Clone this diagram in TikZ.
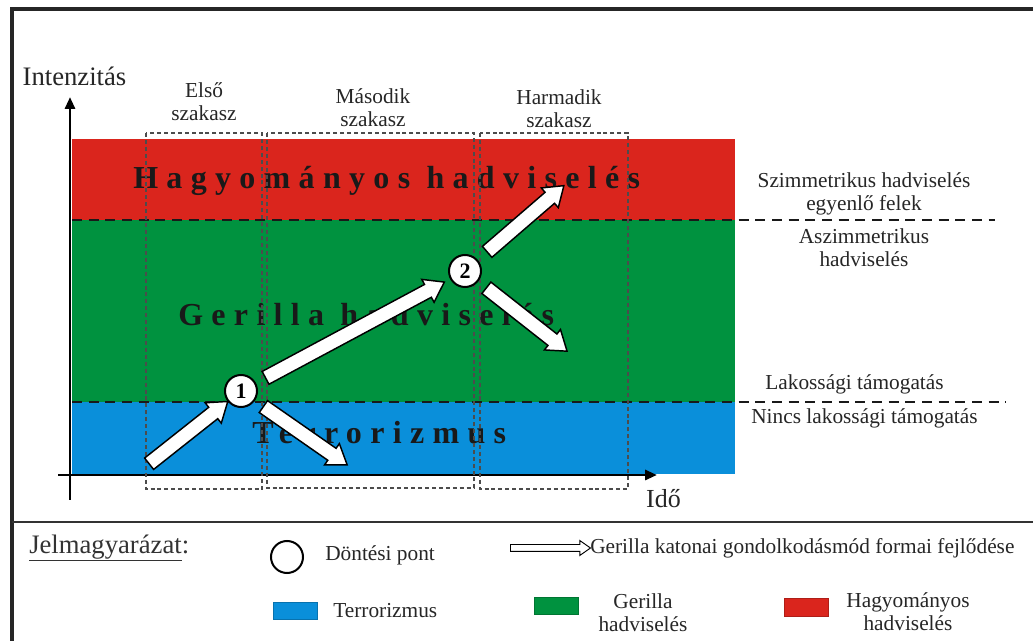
\documentclass[tikz,border=0pt]{standalone}
\usepackage{fontspec}
\setmainfont{Liberation Serif}
\newfontfamily\bandfont[LetterSpace=26]{Liberation Serif}
\usetikzlibrary{shapes.arrows,calc,arrows.meta}
\definecolor{hred}{HTML}{DA251D}
\definecolor{ggreen}{HTML}{00923F}
\definecolor{tblue}{HTML}{0A8FDA}
\pgfdeclarelayer{bottom}
\pgfdeclarelayer{arrowlayer}
\pgfsetlayers{bottom,arrowlayer,main}
\newcommand\blockarrow[4]{%
  \path let \p1=(#2), \p2=(#3), \n1={atan2(\y2-\y1,\x2-\x1)}, \n2={veclen(\x2-\x1,\y2-\y1)} in
    node[#1, minimum height=\n2, rotate=\n1] (#4) at ($(\p1)!0.5!(\p2)$) {};}
\begin{document}
\begin{tikzpicture}[x=0.75pt,y=-0.75pt,
  phase/.style={draw=black!70, line width=0.8pt, dash pattern=on 3pt off 2.2pt},
  level/.style={draw=black!90, line width=1.9pt, dash pattern=on 7.5pt off 5pt},
  axis/.style={line width=2.2pt, -{Triangle[length=9pt,width=7.5pt]}},
  lbl/.style={font=\fontsize{16}{17}\selectfont, text=black!85, align=center, inner sep=0pt},
  biglbl/.style={font=\fontsize{20}{22}\selectfont, text=black!85, inner sep=0pt},
  bandlbl/.style={font=\bandfont\bfseries\fontsize{24}{24}\selectfont, text=black!90, inner sep=0pt, anchor=base west},
  decision/.style={circle, draw, line width=1.5pt, fill=white, minimum size=24pt, inner sep=0pt, font=\bfseries\fontsize{16.5}{16.5}\selectfont},
  bigarrow/.style={single arrow, draw, fill=white, line width=1.1pt, inner xsep=0pt, inner ysep=4.9pt,
    single arrow head extend=4.3pt, single arrow tip angle=70, single arrow head indent=0pt},
  legarrow/.style={single arrow, draw, fill=white, line width=0.7pt, inner xsep=0pt, inner ysep=2.25pt,
    single arrow head extend=3pt, single arrow tip angle=70, single arrow head indent=0pt},
  swatch/.style={line width=0.5pt}
]
\useasboundingbox (0,0) rectangle (1033,641);
\clip (0,0) rectangle (1033,641);

\begin{pgfonlayer}{bottom}
% frame
\draw[line width=2.4pt, black!85] (12,700) -- (12,9) -- (1100,9);
\draw[line width=2pt, black!80] (12,522) -- (1100,522);
% bands
\fill[hred] (72,139) rectangle (735,220);
\fill[ggreen] (72,220) rectangle (735,402);
\fill[tblue] (72,402) rectangle (735,474);
\node[bandlbl] (lh) at (133,189) {Hagyományos hadviselés};
\node[bandlbl] (lg) at (178,326) {Gerilla hadviselés};
\node[bandlbl] (lt) at (252,444) {Terrorizmus};
% level lines
\draw[level] (72,220) -- (995,220);
\draw[level] (72,402) -- (1006,402);
% axes
\draw[axis] (70,500) -- (70,97);
\draw[axis] (58,475) -- (657,475);
% phase boxes
\draw[phase] (146,133) rectangle (262,489);
\draw[phase] (267,133) rectangle (474,488);
\draw[phase] (480,133) rectangle (628,489);
\end{pgfonlayer}

% axis labels
\node[biglbl] (yl) at (74.5,76) {Intenzitás};
\node[biglbl, font=\fontsize{19.5}{21}\selectfont] (xl) at (663.5,499) {Idő};
% phase labels
\node[lbl] (p1) at (204,102) {Első\\szakasz};
\node[lbl] (p2) at (373,108) {Második\\szakasz};
\node[lbl] (p3) at (559,109) {Harmadik\\szakasz};
% right labels
\node[lbl] (r1) at (864,194) {Szimmetrikus hadviselés\\egyenlő felek};
\node[lbl] (r2) at (864,248) {Aszimmetrikus\\hadviselés};
\node[lbl] (r3) at (854.5,384) {Lakossági támogatás};
\node[lbl] (r4) at (864.5,418) {Nincs lakossági támogatás};

% decision points
\node[decision] (n1) at (241,391) {1};
\node[decision] (n2) at (465,271) {2};
\coordinate (s0) at (145,467);
\coordinate (e2) at (343,462);
\coordinate (e3) at (563,348);
\coordinate (e4) at (560,189);

\begin{pgfonlayer}{arrowlayer}
\blockarrow{bigarrow}{s0}{$(n1)!16.5pt!(s0)$}{a0}
\blockarrow{bigarrow}{$(n1)!17pt!(n2)$}{$(n2)!21.5pt!(n1)$}{a1}
\blockarrow{bigarrow}{$(n1)!16.5pt!(e2)$}{e2}{a2}
\blockarrow{bigarrow}{$(n2)!16.5pt!(e3)$}{e3}{a3}
\blockarrow{bigarrow}{$(n2)!18pt!(e4)$}{e4}{a4}
\end{pgfonlayer}

% legend
\node[biglbl, anchor=west, text=black!80] (leg) at (29,548) {\underline{Jelmagyarázat}:};
\node[circle, draw, line width=1.5pt, minimum size=24pt, inner sep=0pt] (lc) at (287,557) {};
\node[lbl, anchor=west] (lct) at (325,555) {Döntési pont};
\coordinate (la0) at (508,548);
\coordinate (la1) at (588,548);
\blockarrow{legarrow}{la0}{la1}{la}
\node[lbl, anchor=west] (lat) at (590,548) {Gerilla katonai gondolkodásmód formai fejlődése};
\draw[swatch, fill=tblue, draw=tblue!80!black] (273,602) rectangle (317,619);
\node[lbl, anchor=west] (lbt) at (333,611) {Terrorizmus};
\draw[swatch, fill=ggreen, draw=ggreen!80!black] (534,597) rectangle (578,614);
\node[lbl] (lgt) at (643,613) {Gerilla\\hadviselés};
\draw[swatch, fill=hred, draw=hred!80!black] (784,598) rectangle (828,616);
\node[lbl] (lrt) at (908,612) {Hagyományos\\hadviselés};
\end{tikzpicture}
\end{document}
